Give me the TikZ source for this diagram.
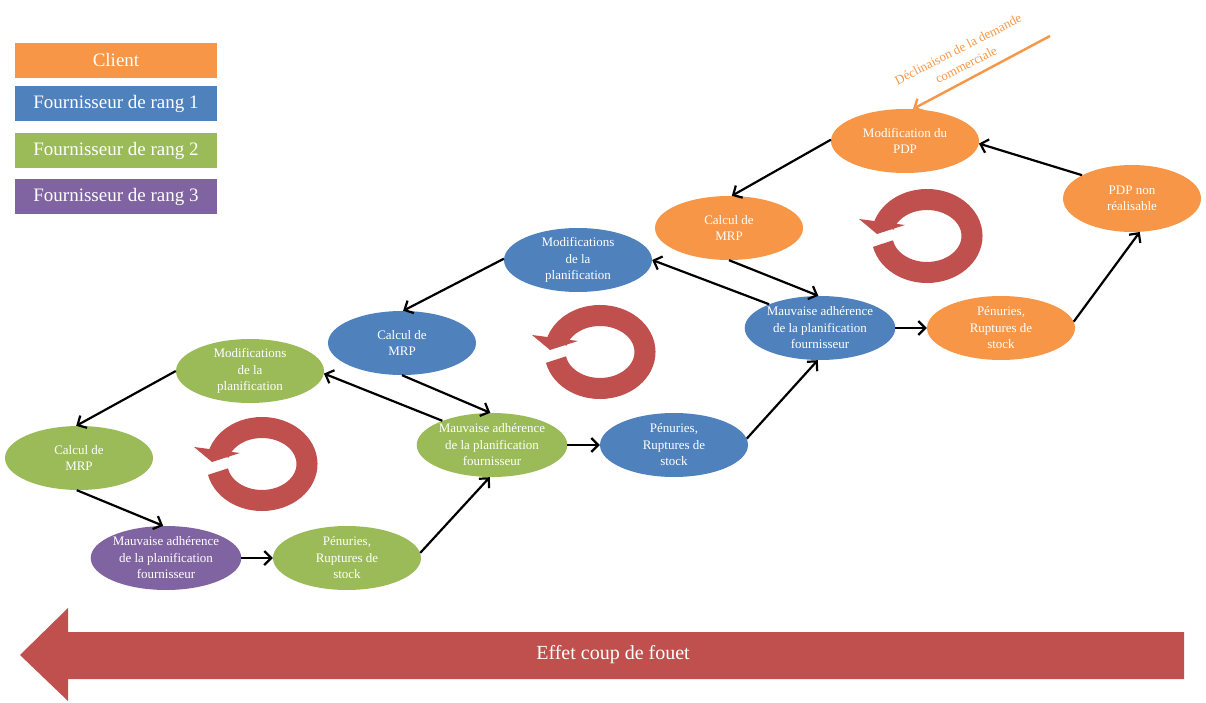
\documentclass[tikz,border=0pt]{standalone}
\usepackage{fontspec}
\setmainfont{Liberation Serif}
\usetikzlibrary{shapes.geometric,arrows.meta}

\definecolor{corange}{HTML}{F79646}
\definecolor{cblue}{HTML}{4F81BD}
\definecolor{cgreen}{HTML}{9BBB59}
\definecolor{cpurple}{HTML}{8064A2}
\definecolor{cred}{HTML}{C0504D}

\tikzset{
  etape/.style={ellipse, minimum width=148pt, minimum height=64pt, inner sep=0pt,
    text=white, align=center, font=\fontsize{13}{16.5}\selectfont},
  legende/.style={rectangle, minimum width=202pt, minimum height=35pt, inner sep=0pt,
    text=white, font=\fontsize{19}{22}\selectfont},
  fleche/.style={line width=2.2pt, -{Straight Barb[length=7pt,width=14pt]}},
  anneau/.style={line width=21pt, draw=cred},
}

\begin{document}
\begin{tikzpicture}[x=1pt,y=1pt]
\useasboundingbox (0,0) rectangle (1206,702);

% legende
\node[legende, fill=corange] (lclient) at (116,641.5) {Client};
\node[legende, fill=cblue] (lrang1) at (116,598) {Fournisseur de rang 1};
\node[legende, fill=cgreen] (lrang2) at (116,551.5) {Fournisseur de rang 2};
\node[legende, fill=cpurple] (lrang3) at (116,505) {Fournisseur de rang 3};

% rang 2 et 3
\node[etape, fill=cgreen] (gcalc) at (79,244) {Calcul de\\MRP};
\node[etape, fill=cgreen] (gmodif) at (250,331) {Modifications\\de la\\planification};
\node[etape, fill=cpurple] (pmauv) at (166,144) {Mauvaise adhérence\\de la planification\\fournisseur};
\node[etape, fill=cgreen] (gpenurie) at (347,144) {Pénuries,\\Ruptures de\\stock};

% rang 1
\node[etape, fill=cgreen] (gmauv) at (492,257) {Mauvaise adhérence\\de la planification\\fournisseur};
\node[etape, fill=cblue] (bcalc) at (402,359) {Calcul de\\MRP};
\node[etape, fill=cblue] (bmodif) at (578,442) {Modifications\\de la\\planification};
\node[etape, fill=cblue] (bpenurie) at (674,257) {Pénuries,\\Ruptures de\\stock};

% client
\node[etape, fill=cblue] (bmauv) at (820,374) {Mauvaise adhérence\\de la planification\\fournisseur};
\node[etape, fill=corange] (ocalc) at (729,474) {Calcul de\\MRP};
\node[etape, fill=corange] (omodif) at (905,561) {Modification du\\PDP};
\node[etape, fill=corange] (openurie) at (1001,374) {Pénuries,\\Ruptures de\\stock};
\node[etape, fill=corange, minimum width=138pt, minimum height=67pt] (opdp) at (1132,503.5) {PDP non\\réalisable};

\draw[fleche] (gmodif.180) -- (gcalc.95);
\draw[fleche] (gcalc.266) -- (pmauv.95);
\draw[fleche] (pmauv.east) -- (gpenurie.west);
\draw[fleche] (gpenurie.4) -- (gmauv.266);
\draw[fleche] (gmauv.154) -- (gmodif.358);

\draw[fleche] (bmodif.179) -- (bcalc.88);
\draw[fleche] (bcalc.270) -- (gmauv.93);
\draw[fleche] (gmauv.east) -- (bpenurie.west);
\draw[fleche] (bpenurie.5) -- (bmauv.266);
\draw[fleche] (bmauv.155) -- (bmodif.0);

\draw[fleche] (omodif.179) -- (ocalc.85);
\draw[fleche] (ocalc.270) -- (bmauv.93);
\draw[fleche] (bmauv.east) -- (openurie.west);
\draw[fleche] (openurie.5) -- (opdp.283);
\draw[fleche] (opdp.155) -- (omodif.358);

% demande commerciale
\coordinate (demande) at (1050,666);
\draw[fleche, line width=2.4pt, draw=corange] (demande) -- (omodif.76);
\node[rotate=27, text=corange, align=center, font=\fontsize{13}{17.5}\selectfont] (decl) at (962,645) {Déclinaison de la demande\\commerciale};

% boucles
\foreach \cx/\cy in {262/238, 600/350, 927/466}{
  \draw[anneau] (\cx,\cy) ++(192:45 and 36.5) arc[start angle=192, end angle=523, x radius=45, y radius=36.5];
  \fill[cred] (\cx,\cy) ++(-68,17) -- ++(18,-15) -- ++(28,9) -- cycle;
}

% effet coup de fouet
\fill[cred] (1184,70) -- (68,70) -- (68,94) -- (20,47) -- (68,1) -- (68,23) -- (1184,23) -- cycle;
\node[text=white, font=\fontsize{20}{24}\selectfont] (fouet) at (613,47) {Effet coup de fouet};

\end{tikzpicture}
\end{document}
